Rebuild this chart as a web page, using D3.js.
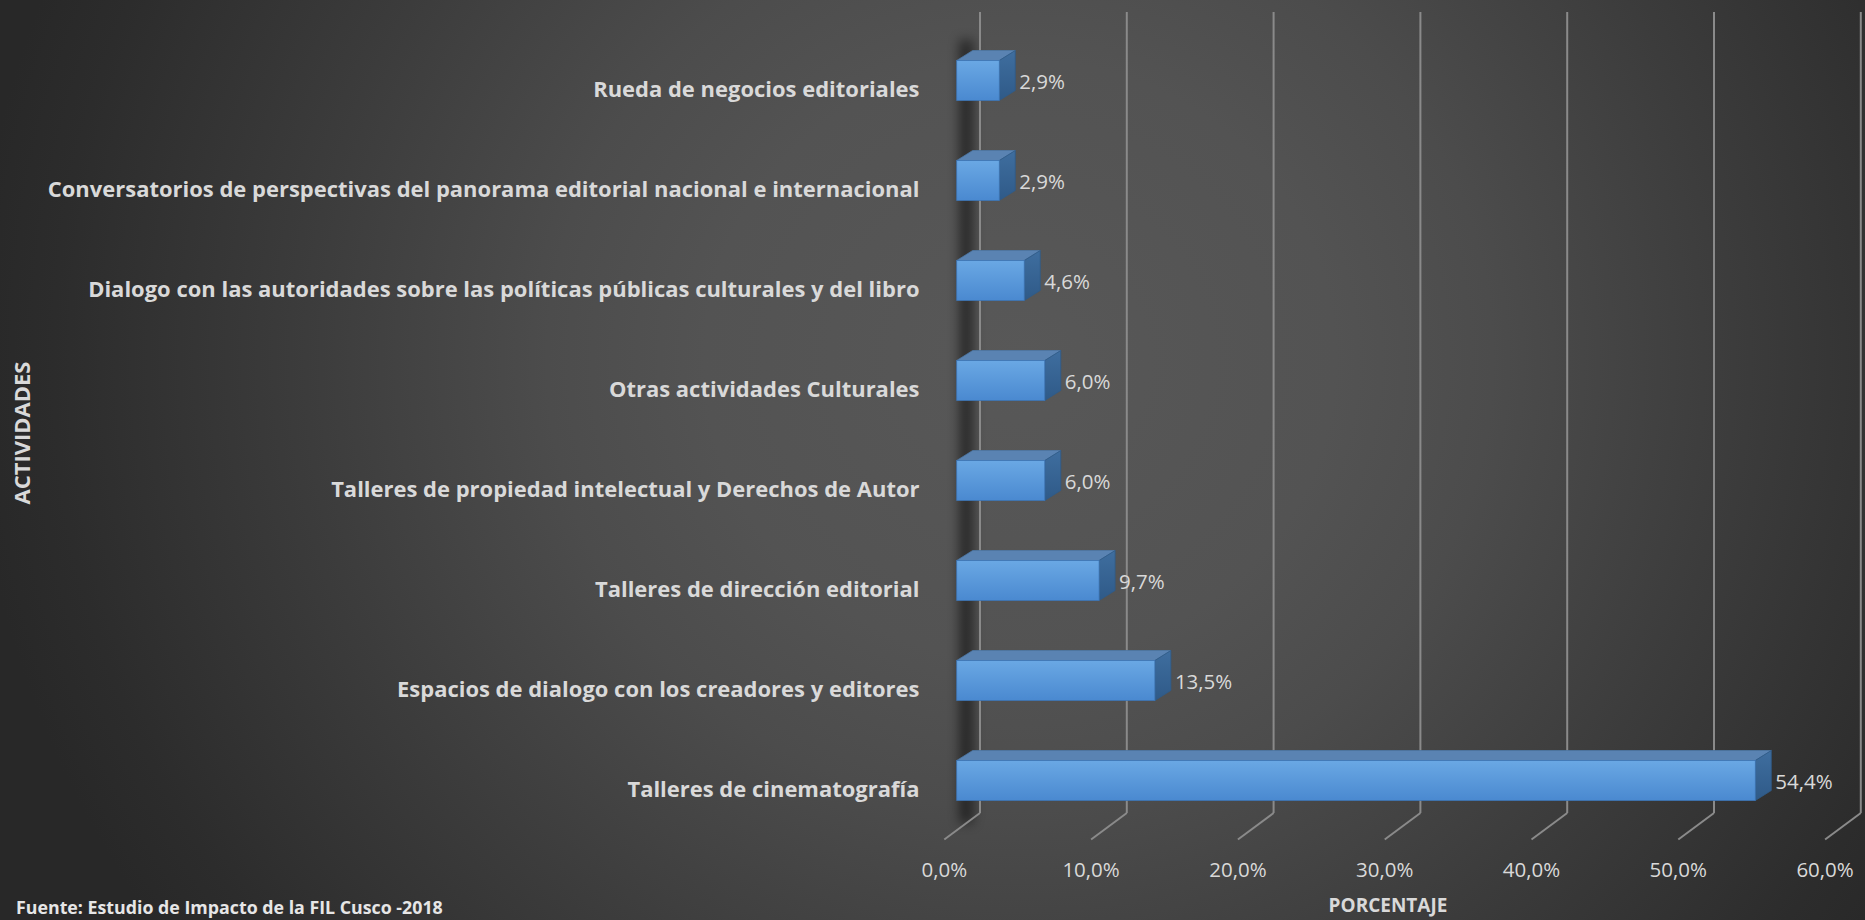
<!DOCTYPE html>
<html>
<head>
<meta charset="utf-8">
<script src="https://cdn.jsdelivr.net/npm/d3@7"></script>
<style>
  html, body { margin: 0; padding: 0; background: #2a2a2a; overflow: hidden; }
  svg { display: block; }
</style>
</head>
<body>
<svg id="chart" width="1865" height="920"></svg>
<script>
// ---- data (top to bottom as drawn) ----
const categories = [
  "Rueda de negocios editoriales",
  "Conversatorios de perspectivas del panorama editorial nacional e internacional",
  "Dialogo con las autoridades sobre las políticas públicas culturales y del libro",
  "Otras actividades Culturales",
  "Talleres de propiedad intelectual y Derechos de Autor",
  "Talleres de dirección editorial",
  "Espacios de dialogo con los creadores y editores",
  "Talleres de cinematografía"
];
const values = [2.9, 2.9, 4.6, 6.0, 6.0, 9.7, 13.5, 54.4];
const tickValues = [0, 10, 20, 30, 40, 50, 60];
const xAxisTitle = "PORCENTAJE";
const yAxisTitle = "ACTIVIDADES";
const sourceNote = "Fuente: Estudio de Impacto de la FIL Cusco -2018";

const fmt = v => d3.format(".1f")(v).replace(".", ",") + "%";

const W = 1865, H = 920;
const svg = d3.select("#chart");
const defs = svg.append("defs");

// background radial gradient
const bg = defs.append("radialGradient").attr("id", "bg")
  .attr("gradientUnits", "userSpaceOnUse")
  .attr("cx", 1020).attr("cy", 360).attr("r", 1000)
  .attr("gradientTransform", "translate(1020,360) scale(1.05,1) translate(-1020,-360)");
[[0, "#585858"], [0.3, "#535353"], [0.45, "#4c4c4c"], [0.68, "#3c3c3c"], [0.92, "#2c2c2c"], [1, "#282828"]]
  .forEach(([o, c]) => bg.append("stop").attr("offset", o).attr("stop-color", c));
svg.append("rect").attr("width", W).attr("height", H).attr("fill", "url(#bg)");

// gradients for bars
const gFront = defs.append("linearGradient").attr("id", "gFront").attr("x1", 0).attr("y1", 0).attr("x2", 0).attr("y2", 1);
gFront.append("stop").attr("offset", 0).attr("stop-color", "#6aa8e4");
gFront.append("stop").attr("offset", 1).attr("stop-color", "#4a89d0");
const gSide = defs.append("linearGradient").attr("id", "gSide").attr("x1", 0).attr("y1", 0).attr("x2", 0).attr("y2", 1);
gSide.append("stop").attr("offset", 0).attr("stop-color", "#3f6e9f");
gSide.append("stop").attr("offset", 1).attr("stop-color", "#2f5a88");

const blur = defs.append("filter").attr("id", "blur").attr("x", "-200%").attr("y", "-10%").attr("width", "500%").attr("height", "120%");
blur.append("feGaussianBlur").attr("stdDeviation", 6);

// ---- scales ----
const x = d3.scaleLinear().domain([0, 60]).range([956.7, 956.7 + 60 * 14.68]); // front plane
const backDX = 23.3;           // back wall offset
const floorDX = -35.7, floorDY = 26.5;
const wallTop = 12, wallBottom = 813;
const y = d3.scalePoint().domain(categories).range([80.5, 780.5]);
const barH = 40;
const depthX = 16, depthY = -10;

// shadow stripe
svg.append("rect")
  .attr("x", x(0) + 3).attr("y", 40)
  .attr("width", 13).attr("height", wallBottom - 30)
  .attr("fill", "#000").attr("opacity", 0.55)
  .attr("filter", "url(#blur)");

// gridlines on back wall + floor diagonals
const grid = svg.append("g");
grid.selectAll("line.v").data(tickValues).join("line").attr("class", "v")
  .attr("x1", d => x(d) + backDX).attr("x2", d => x(d) + backDX)
  .attr("y1", wallTop).attr("y2", wallBottom)
  .attr("stroke", "#8a8a8a").attr("stroke-width", 2);
grid.selectAll("line.f").data(tickValues).join("line").attr("class", "f")
  .attr("x1", d => x(d) + backDX).attr("x2", d => x(d) + backDX + floorDX)
  .attr("y1", wallBottom).attr("y2", wallBottom + floorDY)
  .attr("stroke", "#8a8a8a").attr("stroke-width", 2);

// tick labels
svg.append("g").selectAll("text").data(tickValues).join("text")
  .attr("x", d => x(d) + backDX + floorDX)
  .attr("y", 877)
  .attr("text-anchor", "middle")
  .attr("font-family", "'Open Sans', sans-serif")
  .attr("font-size", 20.5)
  .attr("fill", "#d9d9d9")
  .text(d => fmt(d));

// bars
const data = categories.map((c, i) => ({ c, v: values[i] }));
const bars = svg.append("g").selectAll("g").data(data).join("g");
bars.append("polygon") // top face
  .attr("points", d => {
    const x0 = x(0), x1 = x(d.v), yt = y(d.c) - barH / 2;
    return [[x0, yt], [x1, yt], [x1 + depthX, yt + depthY], [x0 + depthX, yt + depthY]].join(" ");
  })
  .attr("fill", "#5a83b2").attr("stroke", "#4d77a6").attr("stroke-width", 0.8);
bars.append("polygon") // side face
  .attr("points", d => {
    const x1 = x(d.v), yt = y(d.c) - barH / 2;
    return [[x1, yt], [x1 + depthX, yt + depthY], [x1 + depthX, yt + depthY + barH], [x1, yt + barH]].join(" ");
  })
  .attr("fill", "url(#gSide)").attr("stroke", "#2f5a88").attr("stroke-width", 0.8);
bars.append("rect") // front face
  .attr("x", x(0)).attr("y", d => y(d.c) - barH / 2)
  .attr("width", d => x(d.v) - x(0)).attr("height", barH)
  .attr("fill", "url(#gFront)").attr("stroke", "#3d75b5").attr("stroke-width", 0.8);

// data labels
bars.append("text")
  .attr("x", d => x(d.v) + depthX + 4)
  .attr("y", d => y(d.c) + 8)
  .attr("font-family", "'Open Sans', sans-serif")
  .attr("font-size", 20.5)
  .attr("fill", "#d9d9d9")
  .text(d => fmt(d.v));

// category labels
const catG = svg.append("g");
const cats = catG.selectAll("text").data(categories).join("text")
  .attr("x", 919.5)
  .attr("y", d => y(d) + 16)
  .attr("text-anchor", "end")
  .attr("font-family", "'Open Sans', sans-serif")
  .attr("font-weight", "bold")
  .attr("font-size", 20)
  .attr("fill", "#d9d9d9")
  .text(d => d);
// fit font size so the longest label spans the same width as the reference
const longest = cats.filter((d, i) => i === 1).node();
const w0 = longest.getComputedTextLength();
const fs = 20 * 872 / w0;
cats.attr("font-size", fs);

// axis titles
svg.append("text")
  .attr("x", 1388).attr("y", 912)
  .attr("text-anchor", "middle")
  .attr("font-family", "'Open Sans', sans-serif")
  .attr("font-weight", "bold").attr("font-size", 19)
  .attr("fill", "#d9d9d9")
  .text(xAxisTitle);
svg.append("text")
  .attr("transform", "translate(30,433) rotate(-90)")
  .attr("text-anchor", "middle")
  .attr("font-family", "'Open Sans', sans-serif")
  .attr("font-weight", "bold").attr("font-size", 22)
  .attr("fill", "#d9d9d9")
  .text(yAxisTitle);

// source note
svg.append("text")
  .attr("x", 16).attr("y", 914)
  .attr("font-family", "'Open Sans', sans-serif")
  .attr("font-weight", "bold").attr("font-size", 17.8)
  .attr("fill", "#e6e6e6")
  .text(sourceNote);
</script>
</body>
</html>
